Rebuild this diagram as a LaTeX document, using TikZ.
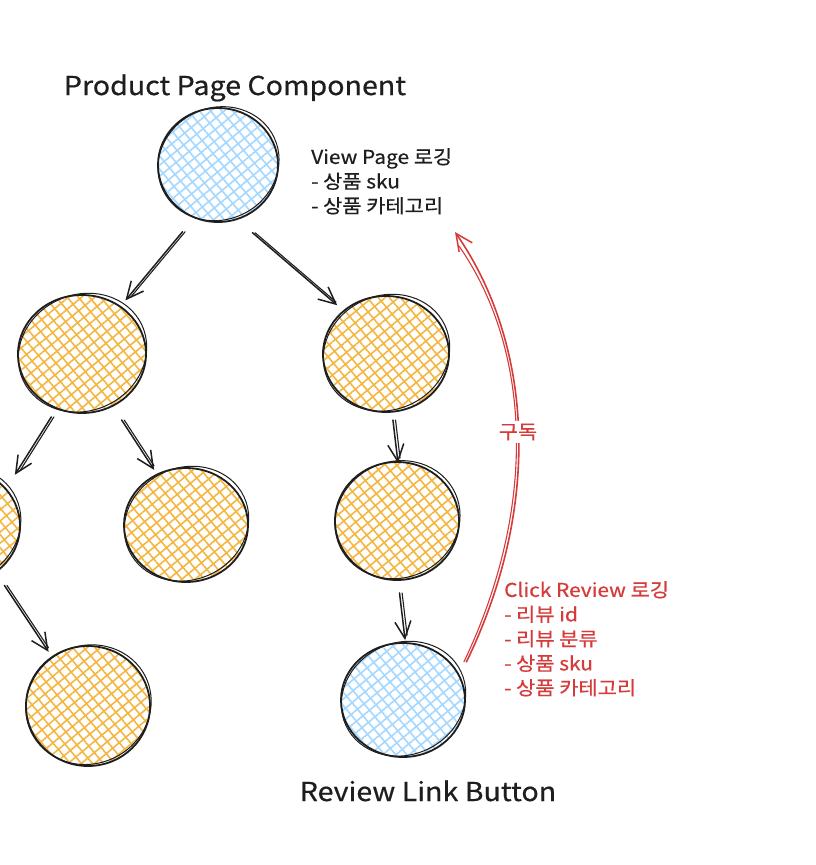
\documentclass[tikz,border=0pt]{standalone}
\usepackage{fontspec}
\setmainfont{Noto Sans CJK KR}
\newfontfamily\handfont{Noto Sans CJK KR}[FakeStretch=1.1, FakeBold=0.5]
\usetikzlibrary{patterns.meta,arrows.meta,calc}
\definecolor{ink}{HTML}{1E1E1E}
\definecolor{hblue}{HTML}{A5D8FF}
\definecolor{horange}{HTML}{F4B63F}
\definecolor{redink}{HTML}{D63B3B}
\tikzset{
  blobnode/.style={circle, inner sep=0pt, draw=none},
  outline/.style={draw=ink, line width=1.8pt},
  outlinetwo/.style={draw=ink, line width=1pt},
  arr/.style={draw=ink, line width=1.5pt, line cap=round, line join=round,
    -{Straight Barb[length=17pt,width=16pt,line width=1.5pt]}},
  arrtwin/.style={draw=ink, line width=1.1pt, line cap=round},
  redarr/.style={draw=redink, line width=1.6pt, line cap=round,
    -{Straight Barb[length=17pt,width=16pt,line width=1.5pt]}},
  redtwin/.style={draw=redink, line width=1.1pt, line cap=round},
  note/.style={font=\handfont\fontsize{19}{24.5}\selectfont, align=left, anchor=north west, inner sep=0pt, text=ink},
  heading/.style={font=\handfont\fontsize{26}{30}\selectfont, anchor=base, inner sep=0pt, text=ink},
}
\newcommand\sketchblob[6]{%
  \node[blobnode, minimum size=#4*2pt] (#1) at (#2,#3) {};
  \fill[pattern={Lines[angle=40,distance=8.5pt,line width=1.6pt]}, pattern color=#6] (#2,#3) ellipse [x radius=#4-1, y radius=#5-1];
  \fill[pattern={Lines[angle=-50,distance=8.5pt,line width=1.6pt]}, pattern color=#6] (#2,#3) ellipse [x radius=#4-1, y radius=#5-1];
  \draw[outline] (#2,#3) ellipse [x radius=#4, y radius=#5];
  \draw[outlinetwo, rotate around={25:(#2,#3)}] (#2+1,#3-1) ellipse [x radius=#4+1.5, y radius=#5-1];
}
\newcommand\twinarrow[6]{%
  \coordinate (s) at ($(#1)!#3pt!(#1.#2)$);
  \coordinate (e) at ($(#4)!#6pt!(#4.#5)$);
  \coordinate (e2) at ($(e)!5pt!(s)$);
  \draw[arrtwin] ([xshift=2.6pt]s) -- ([xshift=2.6pt]e2);
  \draw[arr] (s) -- (e);
}
\begin{document}
\begin{tikzpicture}[x=1pt,y=-1pt]
\useasboundingbox (0,0) rectangle (816,865);
\clip (0,0) rectangle (816,865);
\fill[white] (0,0) rectangle (816,865);

\sketchblob{T}{218}{165}{60}{57}{hblue}
\sketchblob{L}{82}{354}{64}{59}{horange}
\sketchblob{R}{386}{354}{63}{58}{horange}
\sketchblob{FL}{-42}{526}{62}{58}{horange}
\sketchblob{M}{186}{525}{62}{57}{horange}
\sketchblob{R3}{397}{521}{62}{59}{horange}
\sketchblob{BL}{88}{706}{62}{60}{horange}
\sketchblob{BB}{403}{700}{62}{57}{hblue}

\twinarrow{T}{242}{75.6}{L}{51}{69}
\twinarrow{T}{297}{76}{R}{135}{69}
\twinarrow{L}{244}{70}{FL}{42}{76.5}
\twinarrow{L}{301}{77}{M}{120}{63.6}
\twinarrow{FL}{308}{75.4}{BL}{126}{67}
\twinarrow{R}{276}{66.4}{R3}{89}{58}
\twinarrow{R3}{272}{72}{BB}{88}{60}

\node[note] (viewnote) at (311,148) {View Page 로깅\\- 상품 sku\\- 상품 카테고리};
\node[note, text=redink] (clicknote) at (504,581) {Click Review 로깅\\- 리뷰 id\\- 리뷰 분류\\- 상품 sku\\- 상품 카테고리};
\node[heading] (ptitle) at (235,95) {Product Page Component};
\node[heading] (btitle) at (428,801) {Review Link Button};

\coordinate (subend) at (455,232);
\coordinate (rs) at ($(BB)!74pt!(BB.31)$);
\draw[redtwin] ([xshift=-2.5pt]rs) .. controls (541,500) and (528,345) .. ([shift={(4,14)}]subend);
\draw[redarr] (rs) .. controls (545,500) and (530,340) .. (subend);
\node[font=\handfont\fontsize{19}{20}\selectfont, text=redink, fill=white, inner sep=3pt] (sublabel) at (518,432) {구독};
\end{tikzpicture}
\end{document}
